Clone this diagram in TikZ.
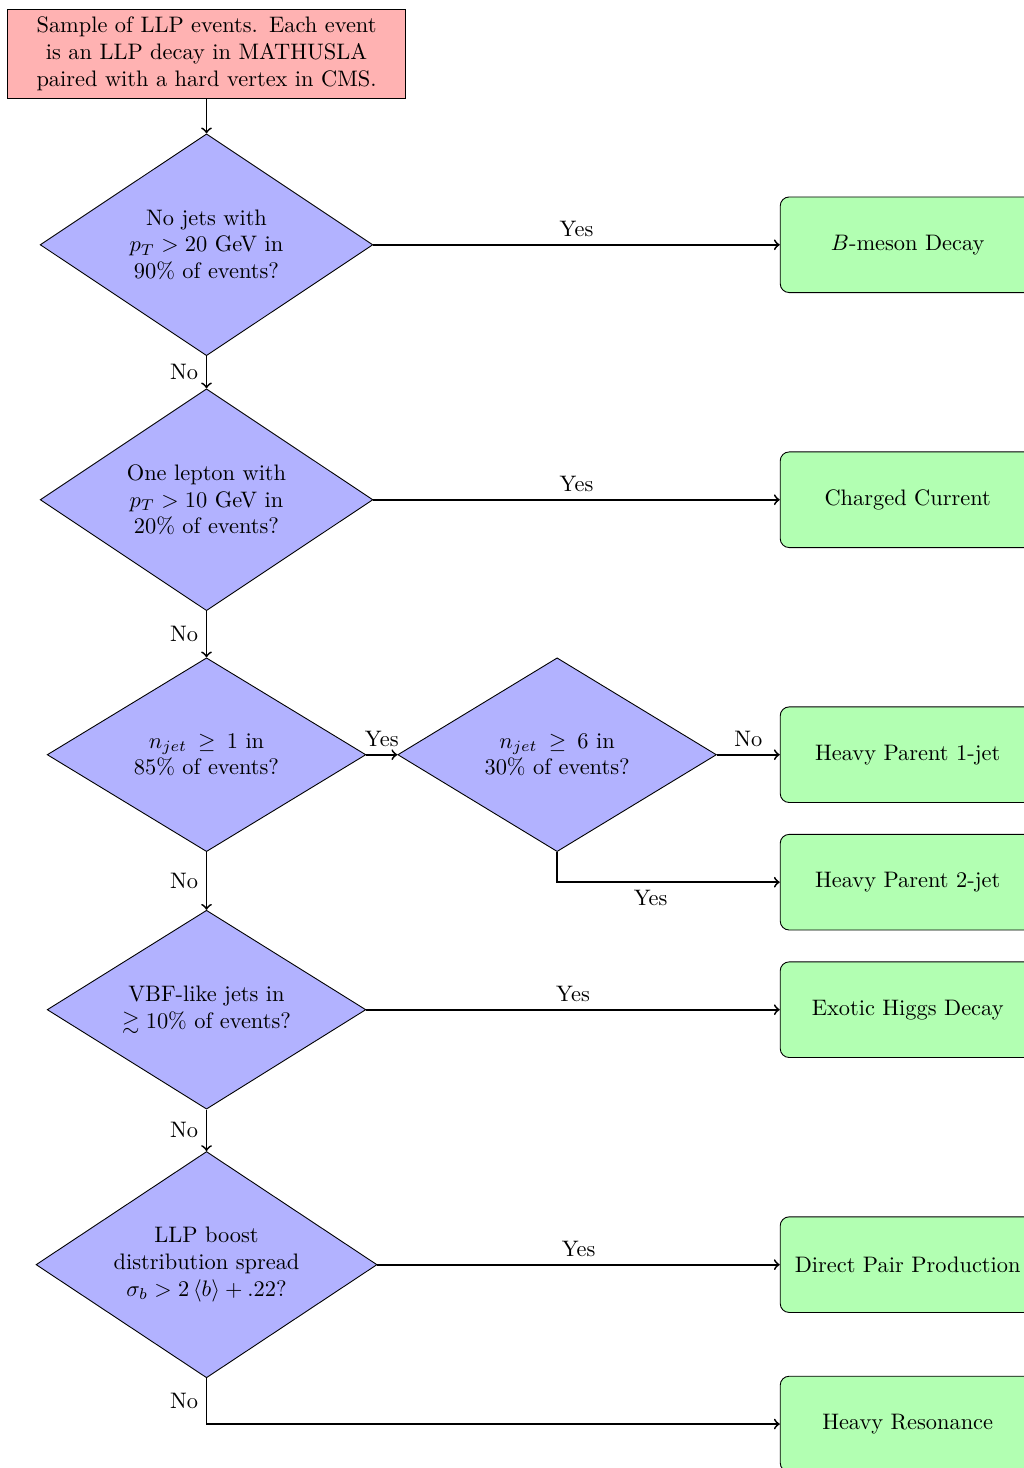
\documentclass[tikz,border=0pt]{standalone}
\usepackage{amsmath,amssymb}
\usepackage{tikz}
\usetikzlibrary{arrows,shapes.geometric}

\begin{document}
\begin{tikzpicture}[auto,
	startbox/.style={rectangle, draw, fill=red!30, text width=6cm, align=center},
	decision/.style={diamond, draw, fill=blue!30, aspect=1.5, inner sep=0pt, align=center},
	outcome/.style={rectangle, draw, rounded corners, fill=green!30, minimum width=4cm, minimum height=1.5cm},
	line/.style={draw, thick, ->}]
			\useasboundingbox (-3.24, 3.84) rectangle (12.82, -19.19);

			\node [startbox] (start) at (0, 3) {Sample of LLP events. Each event is an LLP decay in MATHUSLA paired with a hard vertex in CMS.};
			\node [decision, minimum width=5.22cm, minimum height=3.48cm] (dec1) at (0, 0) {No jets with\\ $p_T > 20$ GeV in\\ 90\% of events?};
			\node [decision, minimum width=5.22cm, minimum height=3.48cm] (dec2) at (0, -4) {One lepton with\\ $p_T > 10$ GeV in\\ 20\% of events?};
			\node [decision, minimum width=5cm, minimum height=3.04cm] (dec3) at (0, -8) {$n_{jet} \:\geq\: 1$ in\\ 85\% of events?};
			\node [decision, minimum width=5cm, minimum height=3.04cm] (dec4) at (5.5, -8) {$n_{jet} \:\geq\: 6$ in\\ 30\% of events?};
			\node [decision, minimum width=5cm, minimum height=3.12cm] (dec5) at (0, -12) {VBF-like jets in\\ $\gtrsim 10\%$ of events?};
			\node [decision, minimum width=5.35cm, minimum height=3.55cm] (dec6) at (0, -16) {LLP boost\\ distribution spread\\ $\sigma_b > 2\left\langle b\right\rangle + .22$?};

			\node [outcome] (out1) at (11, 0) {$B$-meson Decay};
			\node [outcome] (out2) at (11, -4) {Charged Current};
			\node [outcome] (out3) at (11, -8) {Heavy Parent 1-jet};
			\node [outcome] (out4) at (11, -10) {Heavy Parent 2-jet};
			\node [outcome] (out5) at (11, -12) {Exotic Higgs Decay};
			\node [outcome] (out6) at (11, -16) {Direct Pair Production};
			\node [outcome] (out7) at (11, -18.5) {Heavy Resonance};

			\path [line] (start) -- (dec1);
			\path [line] (dec1) -- node [above] {Yes} (out1);
			\path [line] (dec1) -- node [left] {No} (dec2);
			\path [line] (dec2) -- node [above] {Yes} (out2);
			\path [line] (dec2) -- node [left] {No} (dec3);
			\path [line] (dec3) -- node [above] {Yes} (dec4);
			\path [line] (dec4) -- node [above] {No} (out3);
			\path [line] (dec4) |- node [below, pos=0.71] {Yes} (out4);
			\path [line] (dec3) -- node [left] {No} (dec5);
			\path [line] (dec5) -- node [above] {Yes} (out5);
			\path [line] (dec5) -- node [left] {No} (dec6);
			\path [line] (dec6) -- node [above] {Yes} (out6);
			\path [line] (dec6) |- node [left, pos=0.25] {No} (out7);
		\end{tikzpicture}
\end{document}
